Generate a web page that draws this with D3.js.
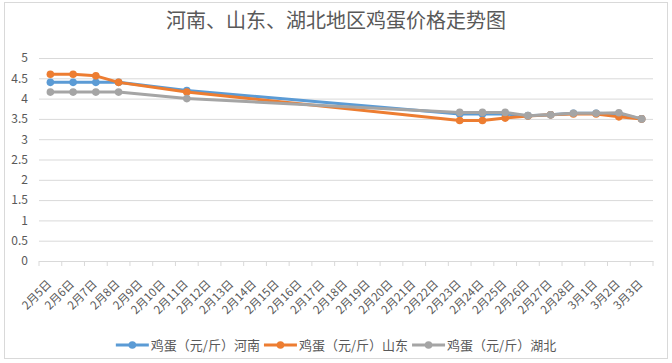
<!DOCTYPE html>
<html>
<head>
<meta charset="utf-8">
<script src="https://cdn.jsdelivr.net/npm/d3@7"></script>
<style>
    body { margin: 0; background: #fff; }
    text { font-family: "Noto Sans CJK SC", "Noto Sans", sans-serif; fill: #595959; }
</style>
</head>
<body>
<div id="chart"></div>
<script>
const title = '河南、山东、湖北地区鸡蛋价格走势图';

const dates = ['2月5日', '2月6日', '2月7日', '2月8日', '2月9日', '2月10日', '2月11日', '2月12日',
    '2月13日', '2月14日', '2月15日', '2月16日', '2月17日', '2月18日', '2月19日', '2月20日',
    '2月21日', '2月22日', '2月23日', '2月24日', '2月25日', '2月26日', '2月27日', '2月28日',
    '3月1日', '3月2日', '3月3日'];

const seriesNames = ['鸡蛋（元/斤）河南', '鸡蛋（元/斤）山东', '鸡蛋（元/斤）湖北'];

// null = no reading that day, the line just joins across
const henan = [4.4, 4.4, 4.4, 4.4, null, null, 4.2, null, null, null, null, null, null, null,
    null, null, null, null, 3.62, 3.62, 3.62, 3.58, 3.6, 3.64, 3.64, 3.62, 3.5];
const shandong = [4.6, 4.6, 4.56, 4.4, null, null, 4.16, null, null, null, null, null, null, null,
    null, null, null, null, 3.46, 3.46, 3.52, 3.57, 3.6, 3.62, 3.62, 3.55, 3.5];
const hubei = [4.16, 4.16, 4.16, 4.16, null, null, 4.0, null, null, null, null, null, null, null,
    null, null, null, null, 3.66, 3.66, 3.66, 3.58, 3.6, 3.64, 3.64, 3.65, 3.5];

const yTicks = [0, 0.5, 1, 1.5, 2, 2.5, 3, 3.5, 4, 4.5, 5];

const colors = ['#5b9bd5', '#ed7d31', '#a5a5a5'];

class LineChart {

    constructor(opts) {
        this.element = opts.element;
        this.series = opts.series;
        this.categories = opts.categories;
        this.draw();
    }

    draw() {
        this.width = 672;
        this.height = 363;
        this.margin = { top: 58, right: 19, bottom: 102, left: 39 };

        const svg = d3.select(this.element).append('svg')
            .attr('width', this.width)
            .attr('height', this.height);
        this.svg = svg;

        svg.append('rect')
            .attr('x', 4.5).attr('y', 2.5)
            .attr('width', 663).attr('height', 356)
            .attr('fill', '#fff')
            .attr('stroke', '#d9d9d9');

        svg.append('text')
            .attr('x', 336).attr('y', 28)
            .attr('text-anchor', 'middle')
            .attr('font-size', 20)
            .text(title);

        this.createScales();
        this.addAxes();
        this.addLines();
        this.addLegend();
    }

    createScales() {
        this.xScale = d3.scaleBand()
            .domain(this.categories)
            .range([this.margin.left, this.width - this.margin.right]);

        this.yScale = d3.scaleLinear()
            .domain([0, 5])
            .range([this.height - this.margin.bottom, this.margin.top]);
    }

    addAxes() {
        const x0 = this.margin.left, x1 = this.width - this.margin.right;

        const yAxis = d3.axisLeft(this.yScale)
            .tickValues(yTicks)
            .tickSize(-(x1 - x0))
            .tickPadding(11)
            .tickFormat(d => d);

        const gy = this.svg.append('g')
            .attr('class', 'y axis')
            .attr('transform', `translate(${x0},0)`)
            .call(yAxis);
        gy.select('.domain').remove();
        gy.selectAll('line').attr('stroke', '#d9d9d9');
        gy.selectAll('text').attr('font-size', 12).attr('fill', '#595959');

        const xAxis = d3.axisBottom(this.xScale)
            .tickSize(0)
            .tickPadding(0);

        const baseY = this.yScale(0);
        const gx = this.svg.append('g')
            .attr('class', 'x axis')
            .attr('transform', `translate(0,${baseY})`)
            .call(xAxis);
        gx.select('.domain').attr('stroke', '#d9d9d9');
        gx.selectAll('.tick line').remove();
        gx.selectAll('.tick text')
            .attr('font-size', 11.5)
            .attr('fill', '#595959')
            .attr('text-anchor', 'end')
            .attr('dy', '0.35em')
            .attr('transform', 'translate(-1,21) rotate(-45)');

        // tick marks between categories
        const bounds = this.categories.map(c => this.xScale(c)).concat([x1]);
        gx.selectAll('.sep')
            .data(bounds)
            .enter()
            .append('line')
                .attr('x1', d => d).attr('x2', d => d)
                .attr('y1', 0).attr('y2', 5)
                .attr('stroke', '#d9d9d9');
    }

    addLines() {
        const half = this.xScale.bandwidth() / 2;
        const line = d3.line()
            .x(d => this.xScale(d.date) + half)
            .y(d => this.yScale(d.value));

        this.series.forEach((s, i) => {
            const pts = this.categories
                .map((c, j) => ({ date: c, value: s.values[j] }))
                .filter(d => d.value != null);

            const g = this.svg.append('g');
            g.append('path')
                .datum(pts)
                .attr('fill', 'none')
                .attr('stroke', s.color)
                .attr('stroke-width', 3)
                .attr('stroke-linejoin', 'round')
                .attr('d', line);

            g.selectAll('circle')
                .data(pts)
                .enter()
                .append('circle')
                    .attr('cx', d => this.xScale(d.date) + half)
                    .attr('cy', d => this.yScale(d.value))
                    .attr('r', 3.8)
                    .attr('fill', s.color);
        });
    }

    addLegend() {
        const legend = this.svg.append('g').attr('class', 'legend');
        let x = 0;
        this.series.forEach(s => {
            const item = legend.append('g').attr('transform', `translate(${x},0)`);
            item.append('line')
                .attr('x1', 0).attr('x2', 33)
                .attr('stroke', s.color)
                .attr('stroke-width', 3);
            item.append('circle')
                .attr('cx', 16.5).attr('r', 3.8)
                .attr('fill', s.color);
            const t = item.append('text')
                .attr('x', 35)
                .attr('dy', '0.35em')
                .attr('font-size', 13)
                .text(s.name);
            x += 35 + t.node().getComputedTextLength() + 4;
        });
        legend.attr('transform', `translate(${336 - (x - 4) / 2},345)`);
    }
}

new LineChart({
    element: document.getElementById('chart'),
    categories: dates,
    series: [
        { name: seriesNames[0], values: henan, color: colors[0] },
        { name: seriesNames[1], values: shandong, color: colors[1] },
        { name: seriesNames[2], values: hubei, color: colors[2] }
    ]
});
</script>
</body>
</html>
